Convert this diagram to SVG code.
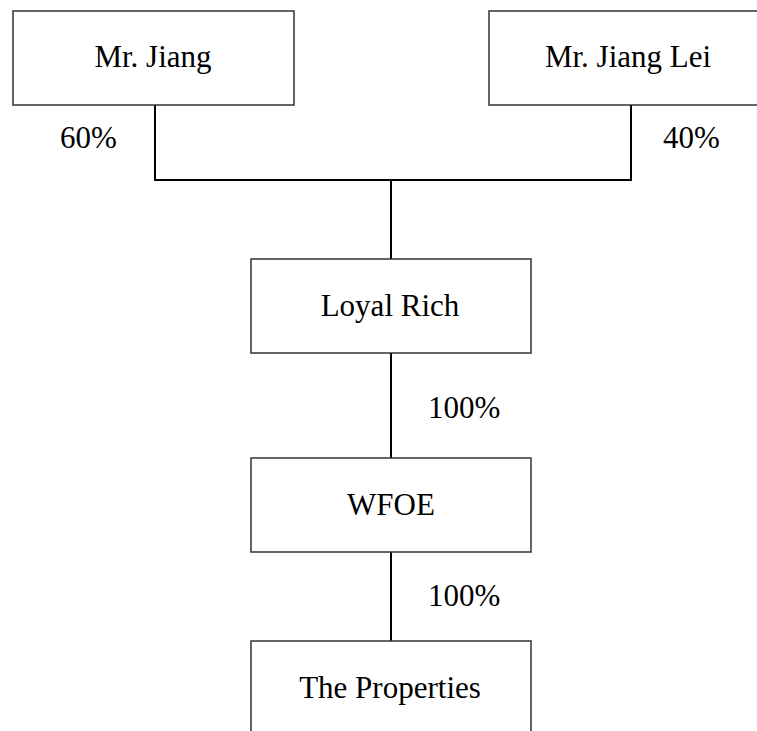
<svg xmlns="http://www.w3.org/2000/svg" width="757" height="731" viewBox="0 0 757 731">
<style>
.box{fill:#fff;stroke:#333;stroke-width:1.5}
.ln{fill:none;stroke:#000;stroke-width:2}
text{font-family:"Liberation Serif","Times New Roman",serif;font-size:31px;fill:#000}
.c{text-anchor:middle}
</style>
<rect width="757" height="731" fill="#fff"/>
<g id="connectors">
<polyline class="ln" points="155,105 155,180 631,180 631,105"/>
<line class="ln" x1="391" y1="180" x2="391" y2="259"/>
<line class="ln" x1="391" y1="353" x2="391" y2="458"/>
<line class="ln" x1="391" y1="552" x2="391" y2="641"/>
<text x="60" y="148">60%</text>
<text x="663" y="148">40%</text>
<text x="428" y="418">100%</text>
<text x="428" y="606">100%</text>
</g>
<g id="mr-jiang">
<rect class="box" x="13" y="11" width="281" height="94"/>
<text class="c" x="153" y="67">Mr. Jiang</text>
</g>
<g id="mr-jiang-lei">
<rect class="box" x="489" y="11" width="281" height="94"/>
<text class="c" x="628" y="67">Mr. Jiang Lei</text>
</g>
<g id="loyal-rich">
<rect class="box" x="251" y="259" width="280" height="94"/>
<text class="c" x="390" y="316">Loyal Rich</text>
</g>
<g id="wfoe">
<rect class="box" x="251" y="458" width="280" height="94"/>
<text class="c" x="391" y="515">WFOE</text>
</g>
<g id="the-properties">
<rect class="box" x="251" y="641" width="280" height="100"/>
<text class="c" x="390" y="698">The Properties</text>
</g>
</svg>
